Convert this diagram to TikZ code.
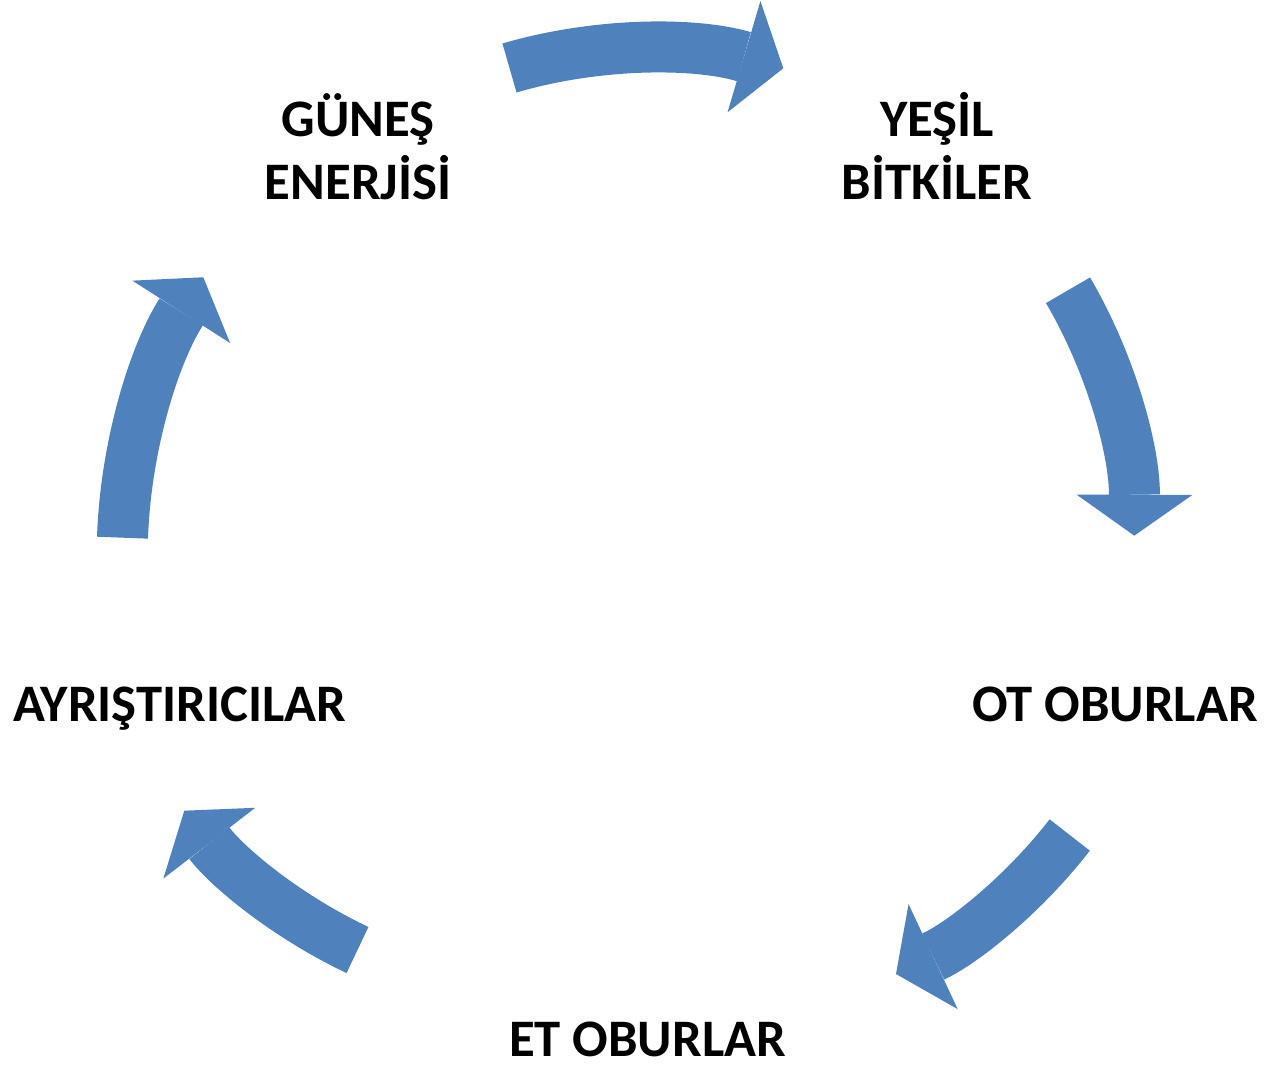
\documentclass[tikz,border=0pt]{standalone}
\usepackage{fontspec}
\setmainfont{Carlito}
\usetikzlibrary{arrows.meta}
\definecolor{okmavi}{RGB}{79,129,189}
\begin{document}
\begin{tikzpicture}[x=0.02cm,y=0.02cm,
    ok/.style={okmavi,line width=1.02cm,looseness=0.86,
      -{Triangle[length=0.82cm,width=2.32cm,line width=0pt]}},
    etiket/.style={font=\fontsize{30}{35.9}\selectfont\bfseries,align=center,
      anchor=base,inner sep=0pt}]
    \useasboundingbox (0,0) rectangle (1265,1067);
    % etiketler
    \node[etiket] (gunes) at (358,867) {GÜNEŞ\\ENERJİSİ};
    \node[etiket] (bitki) at (937,867) {YEŞİL\\BİTKİLER};
    \node[etiket] (otobur) at (1115,345.3) {OT OBURLAR};
    \node[etiket] (etobur) at (647.5,10.5) {ET OBURLAR};
    \node[etiket] (ayris) at (179.5,345) {AYRIŞTIRICILAR};
    % ok uclari
    \coordinate (k1) at (509.5,999);   \coordinate (u1) at (783.3,998.7);
    \coordinate (k2) at (1068,776.7);  \coordinate (u2) at (1134.3,531.3);
    \coordinate (k3) at (1069.7,232);  \coordinate (u3) at (896,93);
    \coordinate (k4) at (357.5,117);   \coordinate (u4) at (184.3,256.3);
    \coordinate (k5) at (122.5,529.3); \coordinate (u5) at (203.3,789.7);
    % oklar
    \draw[ok] (k1) to[bend left=16.4] (u1);
    \draw[ok] (k2) to[bend left=15.3] (u2);
    \draw[ok] (k3) to[bend left=13.6] (u3);
    \draw[ok] (k4) to[bend left=13.6] (u4);
    \draw[ok] (k5) to[bend left=15.3] (u5);
\end{tikzpicture}
\end{document}
